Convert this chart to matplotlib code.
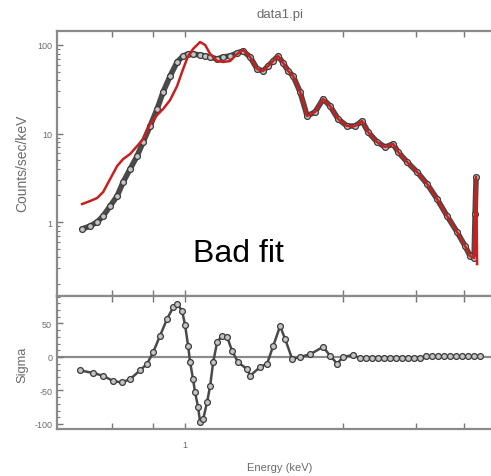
import matplotlib
matplotlib.use("Agg")
import matplotlib.pyplot as plt
from matplotlib.ticker import MultipleLocator, LogLocator, NullFormatter, FixedLocator

plt.rcParams['font.family'] = ['Liberation Sans', 'DejaVu Sans']

# ---- data ----
data_energy = [0.4874, 0.5155, 0.5412, 0.5644, 0.5926, 0.6223, 0.6490, 0.6813, 0.7154, 0.7461,
               0.7832, 0.8226, 0.8577, 0.9006, 0.9457, 0.9861, 1.021, 1.057, 1.110, 1.150,
               1.191, 1.250, 1.304, 1.369, 1.437, 1.499, 1.574, 1.653, 1.723, 1.784,
               1.848, 1.913, 1.982, 2.052, 2.125, 2.231, 2.343, 2.477, 2.619, 2.750,
               2.908, 3.097, 3.274, 3.438, 3.585, 3.817, 4.037, 4.269, 4.421, 4.708,
               5.048, 5.412, 5.802, 6.222, 6.671, 7.053, 7.304, 7.511, 7.564, 7.617]
data_counts = [0.834, 0.901, 1.0, 1.169, 1.516, 1.967, 2.831, 3.972, 5.569, 8.017,
               12.15, 18.92, 29.43, 44.63, 64.25, 75.11, 79.13, 79.13, 77.10, 75.11,
               73.18, 69.47, 73.18, 75.11, 81.21, 85.54, 73.18, 53.56, 50.85, 57.89,
               65.95, 75.11, 62.60, 50.85, 44.63, 29.43, 15.77, 17.50, 24.54, 20.45,
               14.58, 12.15, 12.15, 13.84, 10.40, 8.017, 7.04, 7.61, 6.18, 4.76,
               3.67, 2.69, 1.82, 1.169, 0.771, 0.536, 0.413, 0.392, 1.231, 3.225]

model_energy = [0.4874, 0.5155, 0.5412, 0.5644, 0.5926, 0.6223, 0.6490, 0.6813, 0.7154, 0.7461,
                0.7832, 0.8226, 0.8577, 0.9006, 0.9457, 0.9861, 1.021, 1.057, 1.110, 1.150,
                1.191, 1.250, 1.304, 1.369, 1.437, 1.499, 1.574, 1.653, 1.723, 1.784,
                1.848, 1.913, 1.982, 2.052, 2.125, 2.231, 2.343, 2.477, 2.619, 2.750,
                2.908, 3.097, 3.274, 3.438, 3.585, 3.817, 4.037, 4.269, 4.421, 4.708,
                5.048, 5.412, 5.802, 6.222, 6.671, 7.053, 7.304, 7.511, 7.617, 7.670]
model_counts = [1.597, 1.727, 1.867, 2.183, 3.061, 4.294, 5.150, 5.867, 7.224, 8.668,
                12.80, 16.18, 18.92, 23.90, 34.42, 53.56, 75.11, 90.12, 108.1, 100.0,
                79.13, 65.95, 64.25, 65.95, 79.13, 87.80, 73.18, 53.56, 50.85, 57.89,
                65.95, 75.11, 62.60, 50.85, 44.63, 29.43, 15.77, 17.50, 24.54, 20.45,
                14.58, 12.15, 12.15, 13.84, 10.40, 8.017, 7.04, 7.61, 6.18, 4.76,
                3.67, 2.69, 1.82, 1.169, 0.771, 0.536, 0.413, 0.392, 3.225, 0.335]

resid_energy = [0.4806, 0.5264, 0.5644, 0.6051, 0.6444, 0.6813, 0.7305, 0.7672, 0.7999, 0.8399,
                0.8820, 0.9197, 0.9457, 0.9793, 1.0, 1.021, 1.0355, 1.057, 1.072, 1.095,
                1.110, 1.134, 1.166, 1.191, 1.216, 1.250, 1.295, 1.340, 1.388, 1.447,
                1.541, 1.574, 1.688, 1.772, 1.848, 1.940, 2.009, 2.110, 2.231, 2.392,
                2.619, 2.750, 2.888, 3.012, 3.228, 3.390, 3.536, 3.687, 3.845, 4.009,
                4.180, 4.359, 4.546, 4.740, 4.943, 5.154, 5.375, 5.605, 5.844, 6.094,
                6.355, 6.627, 6.910, 7.206, 7.514, 7.836]
resid_sigma = [-20, -24, -28, -36, -38, -33, -20, -10, 7, 32,
               57, 74, 79, 69, 47, 17, -8, -33, -53, -75,
               -97, -93, -67, -43, -8, 22, 32, 30, 9, -8,
               -18, -28, -15, -10, 16, 46, 27, -3, 0, 4,
               15, 2, -10, 0, 3, -2, -2, -2, -2, -2,
               -2, -2, -2, -2, -2, -2, 1, 1, 1, 1,
               1, 1, 1, 1, 1, 1]

top_yticks = [1, 10, 100]
top_yticklabels = ['1', '10', '100']
bot_yticks = [-100, -50, 0, 50]
bot_yticklabels = ['-100', '-50', '0', '50']
x_ticks = [0.6, 0.8, 1, 3, 5, 7]
x_ticklabels = ['', '', '1', '', '', '']

# ---- figure ----
W, H = 491, 477
fig = plt.figure(figsize=(W / 100, H / 100), dpi=100)
L = 57 / W
R = 500 / W
ax = fig.add_axes([L, 1 - 297 / H, R - L, (297 - 32) / H])
axr = fig.add_axes([L, 1 - 430 / H, R - L, (430 - 297) / H])

spine_col = '#8a8a8a'
tick_col = '#777777'
text_col = '#6a6a6a'

for a in (ax, axr):
    a.set_xscale('log')
    a.set_xlim(0.409, 9.0)
    for s in a.spines.values():
        s.set_color(spine_col)
        s.set_linewidth(1.6)
    a.tick_params(which='both', direction='in', colors=tick_col, top=True, right=True,
                  labelsize=6.5, labelcolor=text_col)
    a.tick_params(which='major', length=4, width=1)
    a.tick_params(which='minor', length=2, width=0.8)
    a.xaxis.set_major_locator(FixedLocator(x_ticks))
    a.xaxis.set_minor_locator(FixedLocator([]))

# top panel
ax.set_yscale('log')
ax.set_ylim(0.146, 143.9)
ax.set_yticks(top_yticks)
ax.set_yticklabels(top_yticklabels)
ax.yaxis.set_minor_locator(LogLocator(base=10, subs=[2, 3, 4, 5, 6, 7, 8, 9]))
ax.yaxis.set_minor_formatter(NullFormatter())
ax.set_xticklabels([])

ax.plot(data_energy, data_counts, '-', color='#4a4a4a', lw=4.0, zorder=2,
        solid_capstyle='round', solid_joinstyle='round')
ax.plot(data_energy, data_counts, 'o', mfc='#c4c4c4', mec='#3a3a3a', ms=4.2, mew=0.9, zorder=3)
ax.plot(model_energy, model_counts, '-', color='#c8201e', lw=1.8, zorder=4)

# residual panel
axr.set_ylim(-107.5, 91)
axr.set_yticks(bot_yticks)
axr.set_yticklabels(bot_yticklabels)
axr.yaxis.set_minor_locator(MultipleLocator(10))
axr.set_xticklabels(x_ticklabels)
axr.tick_params(axis='x', pad=8)
axr.axhline(0, color='#8a8a8a', lw=1.6, zorder=1)
axr.plot(resid_energy, resid_sigma, '-', color='#4a4a4a', lw=1.8, zorder=2,
         solid_capstyle='round', solid_joinstyle='round')
axr.plot(resid_energy, resid_sigma, 'o', mfc='#c4c4c4', mec='#3a3a3a', ms=4.2, mew=0.9, zorder=3)

# texts
fig.text(280 / W, 1 - 15 / H, 'data1.pi', ha='center', va='center', fontsize=9.5, color=text_col)
fig.text(22 / W, 1 - 163 / H, 'Counts/sec/keV', rotation=90, ha='center', va='center',
         fontsize=10, color=text_col)
fig.text(22 / W, 1 - 365 / H, 'Sigma', rotation=90, ha='center', va='center',
         fontsize=9.3, color=text_col)
fig.text(280 / W, 1 - 468 / H, 'Energy (keV)', ha='center', va='center', fontsize=8, color=text_col)
fig.text(193 / W, 1 - 262 / H, 'Bad fit', ha='left', va='baseline', fontsize=23, color='black')

fig.savefig('out.png', dpi=100)
